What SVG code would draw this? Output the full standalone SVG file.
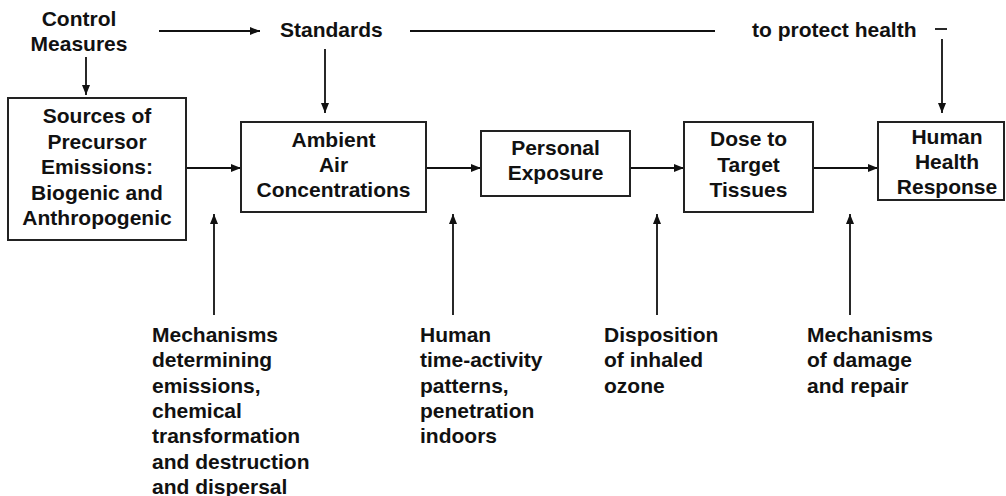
<svg xmlns="http://www.w3.org/2000/svg" width="1006" height="496" viewBox="0 0 1006 496">
<style>
text{font-family:"Liberation Sans",Arial,sans-serif;font-weight:bold;font-size:21px;fill:#111}
.c{text-anchor:middle}
.box{fill:#fff;stroke:#222;stroke-width:2}
.ln{stroke:#111;stroke-width:1.8;fill:none}
</style>
<defs>
<marker id="ah" markerUnits="userSpaceOnUse" markerWidth="11" markerHeight="9" refX="10" refY="4.5" orient="auto">
<path d="M0,0.5 L10,4.5 L0,8.5 Z" fill="#111"/>
</marker>
</defs>
<rect width="1006" height="496" fill="#fff"/>
<g id="connectors">
<line class="ln" x1="159" y1="31" x2="260" y2="31" marker-end="url(#ah)"/>
<line class="ln" x1="86" y1="57" x2="86" y2="95" marker-end="url(#ah)"/>
<line class="ln" x1="325" y1="49" x2="325" y2="113" marker-end="url(#ah)"/>
<line class="ln" x1="410" y1="31" x2="715" y2="31"/>
<line class="ln" x1="935" y1="29" x2="947" y2="29"/>
<line class="ln" x1="942" y1="39" x2="942" y2="113" marker-end="url(#ah)"/>
<line class="ln" x1="186" y1="168" x2="241" y2="168" marker-end="url(#ah)"/>
<line class="ln" x1="426" y1="168" x2="481" y2="168" marker-end="url(#ah)"/>
<line class="ln" x1="630" y1="168" x2="684" y2="168" marker-end="url(#ah)"/>
<line class="ln" x1="813" y1="168" x2="878" y2="168" marker-end="url(#ah)"/>
<line class="ln" x1="214" y1="315" x2="214" y2="214" marker-end="url(#ah)"/>
<line class="ln" x1="453" y1="315" x2="453" y2="214" marker-end="url(#ah)"/>
<line class="ln" x1="657" y1="315" x2="657" y2="214" marker-end="url(#ah)"/>
<line class="ln" x1="850" y1="315" x2="850" y2="214" marker-end="url(#ah)"/>
</g>
<g id="control">
<text class="c" x="79" y="26">Control</text>
<text class="c" x="79" y="51">Measures</text>
</g>
<g id="standards"><text x="280" y="37">Standards</text></g>
<g id="protect"><text x="752" y="37">to protect health</text></g>
<g id="sources">
<rect class="box" x="8" y="98" width="178" height="142"/>
<text class="c" x="97" y="123">Sources of</text>
<text class="c" x="97" y="149">Precursor</text>
<text class="c" x="97" y="174">Emissions:</text>
<text class="c" x="97" y="200">Biogenic and</text>
<text class="c" x="97" y="225">Anthropogenic</text>
</g>
<g id="ambient">
<rect class="box" x="241" y="122" width="185" height="90"/>
<text class="c" x="333.5" y="147">Ambient</text>
<text class="c" x="333.5" y="172">Air</text>
<text class="c" x="333.5" y="197">Concentrations</text>
</g>
<g id="personal">
<rect class="box" x="481" y="131" width="149" height="65"/>
<text class="c" x="555.5" y="155">Personal</text>
<text class="c" x="555.5" y="180">Exposure</text>
</g>
<g id="dose">
<rect class="box" x="684" y="122" width="129" height="90"/>
<text class="c" x="748.5" y="146">Dose to</text>
<text class="c" x="748.5" y="172">Target</text>
<text class="c" x="748.5" y="197">Tissues</text>
</g>
<g id="health">
<rect class="box" x="878" y="122" width="126" height="78"/>
<text class="c" x="947" y="144">Human</text>
<text class="c" x="947" y="169">Health</text>
<text class="c" x="947" y="194">Response</text>
</g>
<g id="mech1">
<text x="152" y="342">Mechanisms</text>
<text x="152" y="367">determining</text>
<text x="152" y="393">emissions,</text>
<text x="152" y="418">chemical</text>
<text x="152" y="443">transformation</text>
<text x="152" y="469">and destruction</text>
<text x="152" y="494">and dispersal</text>
</g>
<g id="humanact">
<text x="420" y="342">Human</text>
<text x="420" y="367">time-activity</text>
<text x="420" y="393">patterns,</text>
<text x="420" y="418">penetration</text>
<text x="420" y="443">indoors</text>
</g>
<g id="disposition">
<text x="604" y="342">Disposition</text>
<text x="604" y="367">of inhaled</text>
<text x="604" y="393">ozone</text>
</g>
<g id="mech2">
<text x="807" y="342">Mechanisms</text>
<text x="807" y="367">of damage</text>
<text x="807" y="393">and repair</text>
</g>
</svg>
